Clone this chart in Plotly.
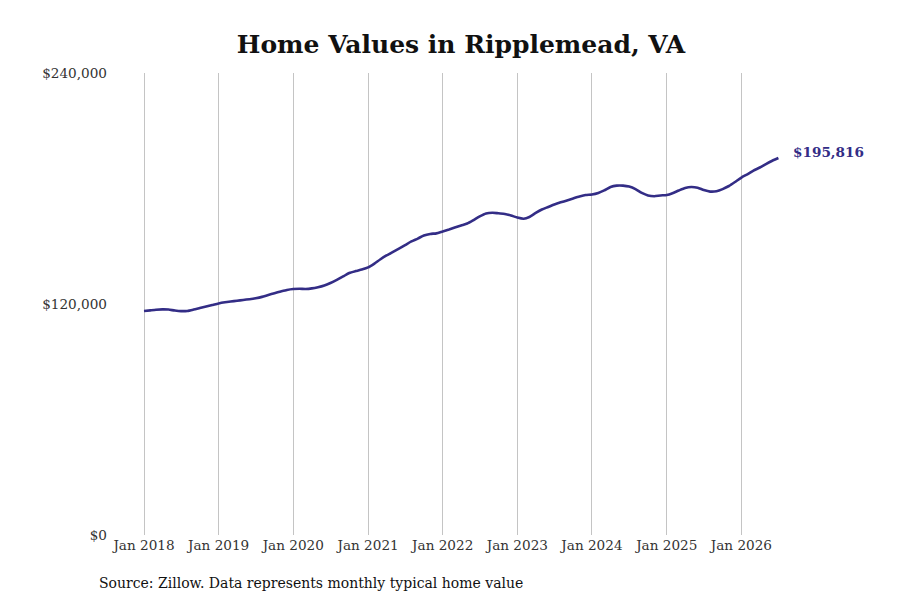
import plotly.graph_objects as go
import pandas as pd

dates = pd.date_range("2018-01-01", periods=103, freq="MS")
values = [
    116364, 116700, 117000, 117200, 117100, 116600, 116300, 116400, 117100, 117900, 118700, 119500,
    120300, 120900, 121300, 121700, 122100, 122500, 123000, 123700, 124700, 125600, 126500, 127300,
    127800, 127900, 127800, 128100, 128700, 129600, 130900, 132500, 134300, 136100, 137100, 137900,
    139000, 141000, 143100, 145200, 147000, 148800, 150600, 152500, 154000, 155600, 156400, 156700,
    157700, 158700, 159700, 160800, 161800, 163600, 165500, 167000, 167400, 167100, 166800, 166000,
    164900, 164300, 165200, 167300, 169100, 170400, 171700, 172800, 173800, 174800, 175800, 176600,
    176900, 177700, 179000, 180800, 181500, 181500, 181000, 179700, 177700, 176400, 176000, 176400,
    176600, 177700, 179000, 180300, 180800, 180400, 179200, 178400, 178600, 179700, 181300, 183400,
    185700, 187500, 189300, 190900, 192700, 194400, 195816,
]
tick_vals = pd.date_range("2018-01-01", "2026-01-01", freq="YS")
tick_text = [f"Jan {d.year}" for d in tick_vals]
y_ticks = [0, 120000, 240000]
y_text = ["$0", "$120,000", "$240,000"]
title = "Home Values in Ripplemead, VA"
source = "Source: Zillow. Data represents monthly typical home value"
line_color = "#332d86"

OFF = 8  # page offset of the plot div
L, R, T, B = 104, 123, 65, 73
pw = 900 - L - R
ph = 600 - T - B
px_per_day = (741.4 - 144) / (pd.Timestamp("2026-01-01") - pd.Timestamp("2018-01-01")).days
x0_screen = OFF + L
x1_screen = OFF + 900 - R
start = pd.Timestamp("2018-01-01") - pd.Timedelta(days=(144 - x0_screen) / px_per_day)
end = pd.Timestamp("2018-01-01") + pd.Timedelta(days=(x1_screen - 144) / px_per_day)

fig = go.Figure()
fig.add_trace(go.Scatter(
    x=dates, y=values, mode="lines",
    line=dict(color=line_color, width=2.6, shape="spline", smoothing=0.6),
    hoverinfo="skip", showlegend=False,
))
fig.add_annotation(
    x=dates[-1], y=values[-1], text=f"<b>${values[-1]:,}</b>",
    showarrow=False, xanchor="left", yanchor="middle", xshift=13, yshift=6,
    font=dict(family="DejaVu Serif", size=13.6, color=line_color),
)
fig.add_annotation(
    x=(97 - OFF - L) / pw, y=-(583 - OFF - (600 - B)) / ph, xref="paper", yref="paper",
    text=source, showarrow=False,
    font=dict(family="DejaVu Serif", size=14, color="#111111"),
    xanchor="left", yanchor="middle",
)

fig.update_layout(
    width=900, height=600,
    margin=dict(l=L, r=R, t=T, b=B),
    paper_bgcolor="white", plot_bgcolor="white",
    title=dict(text=f"<b>{title}</b>", x=(461 - OFF - L) / pw, xref="paper", xanchor="center",
               y=1 - (44 - OFF) / 600, yanchor="middle",
               font=dict(family="DejaVu Serif", size=25, color="#111111")),
    xaxis=dict(range=[start, end], tickvals=tick_vals, ticktext=tick_text,
               showgrid=True, gridcolor="#c4c4c4", gridwidth=1, zeroline=False,
               showline=False, ticks="", ticklen=0,
               tickfont=dict(family="DejaVu Serif", size=13.6, color="#333333")),
    yaxis=dict(range=[0, 240000], tickvals=y_ticks, ticktext=y_text,
               showgrid=False, zeroline=False, showline=False, ticks="",
               ticklabelstandoff=4,
               tickfont=dict(family="DejaVu Serif", size=13.6, color="#333333")),
)
fig.write_html("out.html")
